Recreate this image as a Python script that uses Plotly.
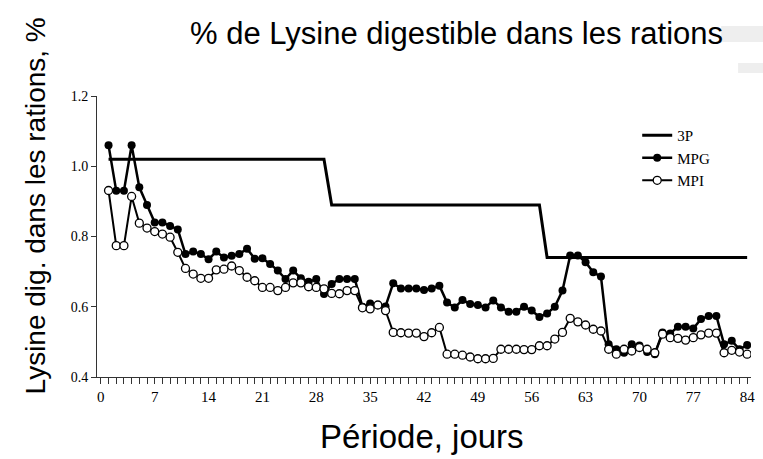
import plotly.graph_objects as go

# Lysine digestible (%) per day
days = list(range(1, 85))

# 3P: three-phase feeding, a step line (breakpoints only)
days_3p = [1, 29, 30, 57, 58, 84]
lys_3p = [1.02, 1.02, 0.89, 0.89, 0.74, 0.74]

lys_mpg = [
    1.06, 0.93, 0.93, 1.06, 0.94, 0.89, 0.84, 0.84, 0.83, 0.82,
    0.75, 0.757, 0.75, 0.735, 0.757, 0.74, 0.745, 0.75, 0.765, 0.737,
    0.738, 0.722, 0.703, 0.679, 0.703, 0.681, 0.671, 0.679, 0.636, 0.665,
    0.679, 0.679, 0.679, 0.60, 0.609, 0.605, 0.601, 0.667, 0.652, 0.652,
    0.652, 0.648, 0.652, 0.66, 0.612, 0.598, 0.619, 0.608, 0.605, 0.598,
    0.618, 0.598, 0.586, 0.586, 0.60, 0.589, 0.571, 0.581, 0.60, 0.646,
    0.746, 0.746, 0.727, 0.698, 0.686, 0.493, 0.479, 0.469, 0.493, 0.49,
    0.471, 0.465, 0.527, 0.524, 0.543, 0.543, 0.538, 0.565, 0.574, 0.574,
    0.493, 0.503, 0.479, 0.491,
]

lys_mpi = [
    0.931, 0.774, 0.774, 0.914, 0.838, 0.824, 0.814, 0.807, 0.798, 0.755,
    0.709, 0.693, 0.681, 0.681, 0.705, 0.707, 0.716, 0.703, 0.684, 0.674,
    0.655, 0.655, 0.646, 0.655, 0.668, 0.668, 0.657, 0.655, 0.651, 0.638,
    0.637, 0.646, 0.646, 0.597, 0.594, 0.605, 0.589, 0.527, 0.526, 0.525,
    0.525, 0.515, 0.526, 0.541, 0.465, 0.465, 0.462, 0.457, 0.452, 0.452,
    0.453, 0.479, 0.479, 0.479, 0.478, 0.478, 0.489, 0.489, 0.508, 0.527,
    0.567, 0.557, 0.548, 0.536, 0.531, 0.479, 0.465, 0.479, 0.474, 0.484,
    0.479, 0.469, 0.522, 0.512, 0.51, 0.505, 0.512, 0.52, 0.525, 0.525,
    0.469, 0.476, 0.471, 0.465,
]

x_ticks = list(range(0, 85, 7))
y_ticks = [0.4, 0.6, 0.8, 1.0, 1.2]

SERIF = "Liberation Serif, Times New Roman, serif"
SANS = "Liberation Sans, Arial, sans-serif"

fig = go.Figure()

fig.add_trace(go.Scatter(
    x=days_3p, y=lys_3p, name="3P", mode="lines",
    line=dict(color="black", width=3),
))
fig.add_trace(go.Scatter(
    x=days, y=lys_mpg, name="MPG", mode="lines+markers",
    line=dict(color="black", width=2.5),
    marker=dict(symbol="circle", size=8, color="black"),
))
fig.add_trace(go.Scatter(
    x=days, y=lys_mpi, name="MPI", mode="lines+markers",
    line=dict(color="black", width=2),
    marker=dict(symbol="circle", size=8, color="white",
                line=dict(color="black", width=1.3)),
))

fig.update_layout(
    width=763, height=459,
    margin=dict(l=97, r=8, t=96, b=82),
    paper_bgcolor="white",
    plot_bgcolor="white",
    showlegend=True,
    legend=dict(
        x=0.826, y=0.918, xanchor="left", yanchor="top",
        bgcolor="rgba(0,0,0,0)",
        font=dict(family=SERIF, size=15, color="black"),
    ),
    annotations=[
        dict(text="% de Lysine digestible dans les rations",
             xref="paper", yref="paper", x=0.55, y=1.224,
             xanchor="center", yanchor="middle", showarrow=False,
             font=dict(family=SANS, size=31, color="black")),
        dict(text="Lysine dig. dans les rations, %",
             xref="paper", yref="paper", x=-0.094, y=0.609,
             xanchor="center", yanchor="middle", showarrow=False,
             textangle=-90,
             font=dict(family=SANS, size=28, color="black")),
        dict(text="Période, jours",
             xref="paper", yref="paper", x=0.497, y=-0.2135,
             xanchor="center", yanchor="middle", showarrow=False,
             font=dict(family=SANS, size=33, color="black")),
    ],
    # faint scan artefacts at the top right of the original
    shapes=[
        dict(type="rect", xref="paper", yref="paper",
             x0=(725 - 97) / 658, x1=1.02, y0=(377 - 42) / 281, y1=(377 - 26) / 281,
             fillcolor="#eeeeee", line=dict(width=0), layer="below"),
        dict(type="rect", xref="paper", yref="paper",
             x0=(742 - 97) / 658, x1=1.02, y0=(377 - 73) / 281, y1=(377 - 63) / 281,
             fillcolor="#eeeeee", line=dict(width=0), layer="below"),
    ],
)

fig.update_xaxes(
    range=[-0.5, 84.5],
    tickvals=x_ticks,
    ticks="outside", ticklen=6, tickcolor="#333", tickwidth=1,
    minor=dict(dtick=1, tick0=0, ticks="outside", ticklen=6,
               tickcolor="#333", tickwidth=1, showgrid=False),
    showline=True, linecolor="#333", linewidth=1,
    showgrid=False, zeroline=False,
    tickfont=dict(family=SERIF, size=15, color="black"),
)
fig.update_yaxes(
    range=[0.4, 1.2],
    tickvals=y_ticks, tickformat=".1f",
    ticks="outside", ticklen=5, tickcolor="#333", tickwidth=1,
    showline=True, linecolor="#333", linewidth=1,
    showgrid=False, zeroline=False,
    tickfont=dict(family=SERIF, size=14, color="black"),
)

# the page body has a default 8px margin; drop it so the figure fills the window
fig.write_html("out.html", config={"displayModeBar": False},
               post_script="document.body.style.margin = '0';")
